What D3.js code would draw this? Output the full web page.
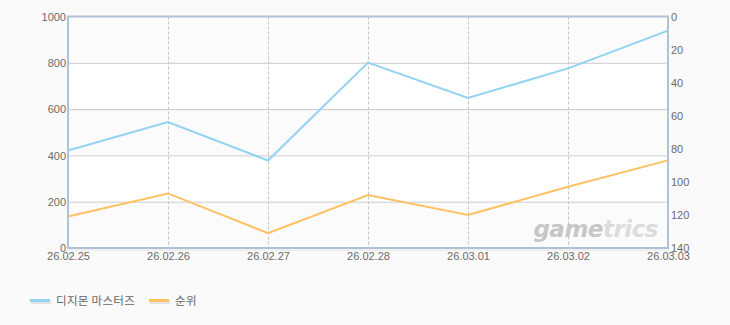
<!DOCTYPE html>
<html>
<head>
<meta charset="utf-8">
<script src="https://cdn.jsdelivr.net/npm/d3@7"></script>
<style>
  body { margin: 0; background: #fafafa; }
  svg text { font-family: "Liberation Sans", "Noto Sans CJK KR", sans-serif; fill: #666; }
</style>
</head>
<body>
<svg id="chart" width="730" height="325"></svg>
<script>
const dates = ['26.02.25', '26.02.26', '26.02.27', '26.02.28', '26.03.01', '26.03.02', '26.03.03']
const players = [421, 544, 378, 801, 648, 776, 939]
const ranks = [121, 107, 131, 108, 120, 103, 87]
const leftTicks = [0, 200, 400, 600, 800, 1000]
const rightTicks = [0, 20, 40, 60, 80, 100, 120, 140]
const seriesNames = ['디지몬 마스터즈', '순위']
const seriesColors = ['#92d2f2', '#ffc162']

const margin = { top: 16.5, right: 62, bottom: 77, left: 68 }
const width = 730, height = 325
const innerWidth = width - margin.left - margin.right
const innerHeight = height - margin.top - margin.bottom

const xScale = d3.scalePoint().domain(dates).range([0, innerWidth])
const yLeft = d3.scaleLinear().domain([0, 1000]).range([innerHeight, 0])
const yRight = d3.scaleLinear().domain([0, 140]).range([0, innerHeight])

const svg = d3.select('#chart')
const g = svg.append('g').attr('transform', 'translate(' + margin.left + ',' + margin.top + ')')

// alternating bands
const bands = d3.pairs(leftTicks)
g.selectAll('.band').data(bands).enter().append('rect')
    .attr('x', 0).attr('width', innerWidth)
    .attr('y', d => yLeft(d[1]))
    .attr('height', d => yLeft(d[0]) - yLeft(d[1]))
    .attr('fill', (d, i) => i % 2 == 0 ? '#fbfbfb' : '#ffffff')

// horizontal grid
g.selectAll('.hgrid').data(leftTicks.slice(1, -1)).enter().append('line')
    .attr('x1', 0).attr('x2', innerWidth)
    .attr('y1', d => yLeft(d) + 0.5).attr('y2', d => yLeft(d) + 0.5)
    .attr('stroke', '#cccccc')

// vertical dashed grid
g.selectAll('.vgrid').data(dates.slice(1, -1)).enter().append('line')
    .attr('x1', d => Math.round(xScale(d)) + 0.5).attr('x2', d => Math.round(xScale(d)) + 0.5)
    .attr('y1', 0).attr('y2', innerHeight)
    .attr('stroke', '#c4c4c4').attr('stroke-dasharray', '3,2')

// watermark
const wm = g.append('text')
    .attr('x', innerWidth - 10).attr('y', innerHeight - 11)
    .attr('text-anchor', 'end')
    .style('font-family', '"DejaVu Sans", sans-serif')
    .style('font-weight', 'bold').style('font-style', 'italic')
    .style('font-size', '23px').style('letter-spacing', '-0.5px')
wm.append('tspan').text('game').style('fill', '#c6c6c6')
wm.append('tspan').text('trics').style('fill', '#dcdcdc')

// lines
const linePlayers = d3.line().x((d, i) => xScale(dates[i])).y(d => yLeft(d))
const lineRanks = d3.line().x((d, i) => xScale(dates[i])).y(d => yRight(d))

g.append('path').datum(players).attr('d', linePlayers)
    .attr('fill', 'none').attr('stroke', seriesColors[0]).attr('stroke-width', 2)
g.append('path').datum(ranks).attr('d', lineRanks)
    .attr('fill', 'none').attr('stroke', seriesColors[1]).attr('stroke-width', 2)

// frame
g.append('rect').attr('x', 0).attr('y', 0).attr('width', innerWidth).attr('height', innerHeight)
    .attr('fill', 'none').attr('stroke', '#b0c2d6').attr('stroke-width', 2)
g.append('line').attr('x1', 1).attr('x2', innerWidth + 1)
    .attr('y1', innerHeight + 2).attr('y2', innerHeight + 2)
    .attr('stroke', '#e4e4e4').attr('stroke-width', 1)

// axes
const leftAxis = d3.axisLeft(yLeft).tickValues(leftTicks).tickFormat(d3.format('d')).tickSize(0).tickPadding(2)
const rightAxis = d3.axisRight(yRight).tickValues(rightTicks).tickFormat(d3.format('d')).tickSize(0).tickPadding(3)
const bottomAxis = d3.axisBottom(xScale).tickSize(0).tickPadding(4)

const la = g.append('g').call(leftAxis)
const ra = g.append('g').attr('transform', 'translate(' + innerWidth + ',0)').call(rightAxis)
const ba = g.append('g').attr('transform', 'translate(0,' + innerHeight + ')').call(bottomAxis)
;[la, ra, ba].forEach(a => {
    a.select('.domain').remove()
    a.selectAll('text').style('font-size', '11px').style('fill', '#6a6a6a')
        .style('font-family', '"Liberation Sans", sans-serif')
})
la.selectAll('text').attr('dy', '0.35em')
ra.selectAll('text').attr('dy', '0.35em')

// legend
const legend = svg.append('g').attr('transform', 'translate(30,301)')
const items = legend.selectAll('g').data(seriesNames).enter().append('g')
    .attr('transform', (d, i) => 'translate(' + (i == 0 ? 0 : 119) + ',0)')
items.append('rect').attr('x', 1).attr('y', 0).attr('width', 20).attr('height', 3).attr('fill', '#e2e2e2')
items.append('rect').attr('x', 0).attr('y', -2).attr('width', 20).attr('height', 3)
    .attr('fill', (d, i) => seriesColors[i])
items.append('text').attr('x', 26).attr('y', 4).text(d => d)
    .style('font-size', '11.5px').style('fill', '#666').style('letter-spacing', '0.3px')
    .style('font-family', '"Noto Sans CJK KR", sans-serif')
</script>
</body>
</html>
